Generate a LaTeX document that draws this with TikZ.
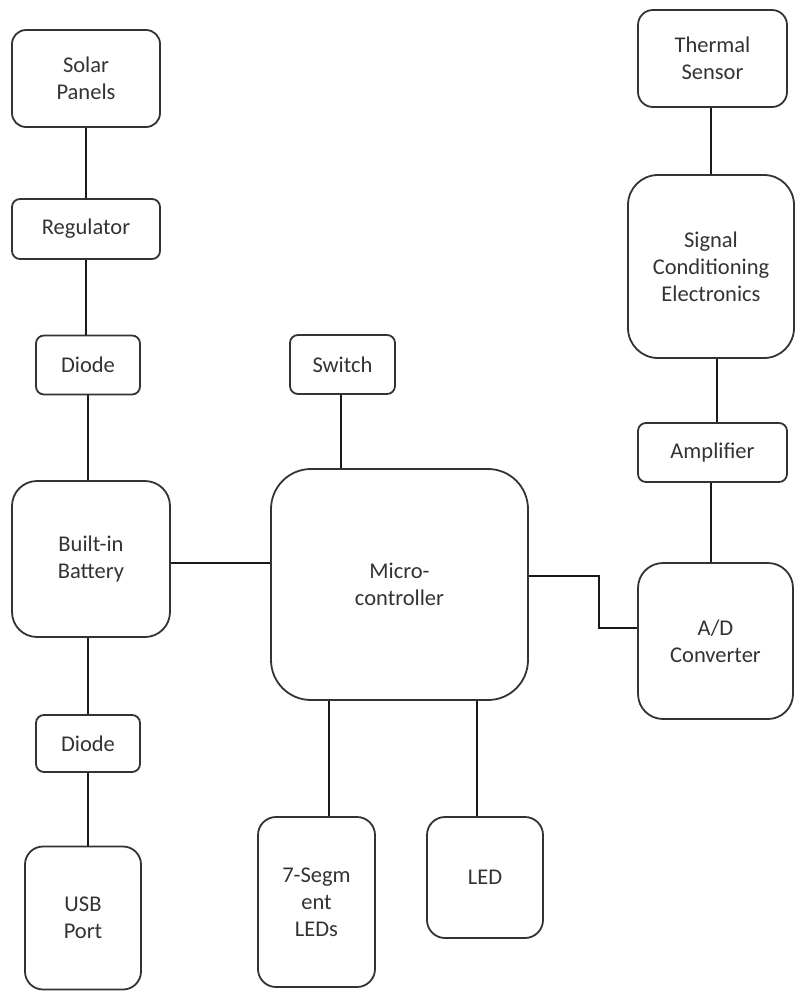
\documentclass[tikz,border=0pt]{standalone}
\usepackage{fontspec}
\setmainfont{Carlito}
\usepackage{tikz}
\usetikzlibrary{positioning,calc}
\tikzset{
  blk/.style={draw=black!80,line width=1.8pt,align=center,inner sep=0pt,text=black!80,
    font=\fontsize{22.5}{27}\selectfont},
  wire/.style={draw=black!90,line width=1.7pt}
}
\begin{document}
\begin{tikzpicture}[x=1pt,y=-1pt]
\useasboundingbox (0,0) rectangle (796,994);
% power side
\node[blk,rounded corners=14pt,minimum width=148pt,minimum height=97pt] (solar) at (86,78.5){Solar\\Panels};
\node[blk,rounded corners=8pt,minimum width=148pt,minimum height=60pt] (reg) at (86,229){Regulator};
\node[blk,rounded corners=8pt,minimum width=104pt,minimum height=59pt] (dtop) at (88,365){Diode};
\node[blk,rounded corners=25pt,minimum width=158pt,minimum height=156pt] (batt) at (91,559){Built-in\\Battery};
\node[blk,rounded corners=8pt,minimum width=104pt,minimum height=57pt] (dbot) at (88,743.5){Diode};
\node[blk,rounded corners=18pt,minimum width=116pt,minimum height=143pt] (usb) at (83,918){USB\\Port};
% controller
\node[blk,rounded corners=8pt,minimum width=105pt,minimum height=59pt] (switch) at (342.5,364.5){Switch};
\node[blk,rounded corners=40pt,minimum width=257pt,minimum height=231pt] (mcu) at (399.5,584.5){Micro-\\controller};
\node[blk,rounded corners=18pt,minimum width=117pt,minimum height=170pt] (seg) at (316.5,902){7-Segm\\ent\\LEDs};
\node[blk,rounded corners=18pt,minimum width=116pt,minimum height=121pt] (led) at (485,877.5){LED};
% sensor side
\node[blk,rounded corners=15pt,minimum width=149pt,minimum height=97pt] (therm) at (712.5,58.5){Thermal\\Sensor};
\node[blk,rounded corners=30pt,minimum width=166pt,minimum height=183pt] (sig) at (711,266.5){Signal\\Conditioning\\Electronics};
\node[blk,rounded corners=8pt,minimum width=149pt,minimum height=59pt] (amp) at (712.5,452.5){Amplifier};
\node[blk,rounded corners=25pt,minimum width=155pt,minimum height=156pt] (adc) at (715.5,641){A/D\\Converter};

\coordinate (bend) at (599,576);
\draw[wire] (solar.south) -- (reg.north);
\draw[wire] (reg.south) -- (reg.south |- dtop.north);
\draw[wire] (dtop.south) -- (dtop.south |- batt.north);
\draw[wire] (dbot.north |- batt.south) -- (dbot.north);
\draw[wire] (dbot.south) -- (dbot.south |- usb.north);
\draw[wire] (batt.east |- 0,563) -- (mcu.west |- 0,563);
\draw[wire] (341,0 |- switch.south) -- (341,0 |- mcu.north);
\draw[wire] (329,0 |- mcu.south) -- (329,0 |- seg.north);
\draw[wire] (477,0 |- mcu.south) -- (477,0 |- led.north);
\draw[wire] (711,0 |- therm.south) -- (711,0 |- sig.north);
\draw[wire] (717,0 |- sig.south) -- (717,0 |- amp.north);
\draw[wire] (711,0 |- amp.south) -- (711,0 |- adc.north);
\draw[wire] (mcu.east |- bend) -- (bend) |- (adc.west |- 0,628);
\end{tikzpicture}
\end{document}
